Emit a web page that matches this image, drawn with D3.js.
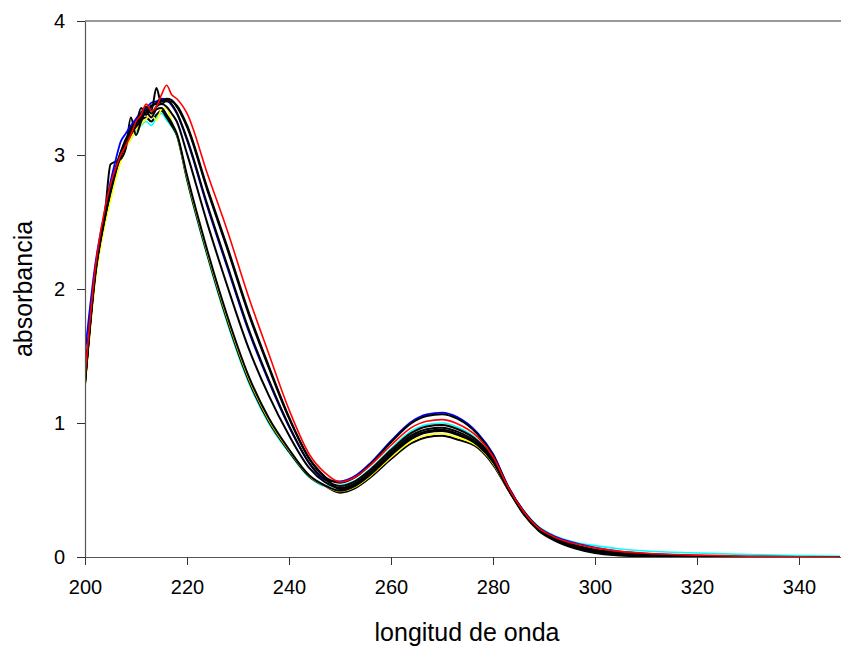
<!DOCTYPE html>
<html>
<head>
<meta charset="utf-8">
<script src="https://cdn.jsdelivr.net/npm/d3@7"></script>
<style>
  html, body { margin: 0; padding: 0; background: #fff; }
  svg { display: block; font-family: "Liberation Sans", Arial, sans-serif; }
</style>
</head>
<body>
<svg id="chart" width="841" height="648"></svg>
<script>
// ---- Data ----
const wavelength = [200,202,204,205,206,207,208,209,210,211,212,213,214,215,216,217,218,
  220,224,228,232,236,240,244,247,
  250,253,256,260,264,267,270,273,277,280,
  283,286,289,292,296,300,
  305,310,320,330,340,348];

const xTicks = [200,220,240,260,280,300,320,340];
const yTicks = [0,1,2,3,4];

const cyanSeries = [1.28,2.08,2.52,2.70,2.86,2.97,3.06,3.12,3.18,3.22,3.25,3.22,3.28,3.31,3.26,3.21,3.14,
  2.81,2.24,1.735,1.31,1.00,0.78,0.595,0.53,
  0.535,0.572,0.661,0.809,0.940,0.988,1.0,0.970,0.875,0.74,
  0.52,0.345,0.225,0.16,0.11,0.085,
  0.06,0.045,0.03,0.018,0.01,0.006];

const blackA = [1.30,2.10,2.55,2.74,2.88,2.98,3.08,3.15,3.20,3.26,3.28,3.25,3.30,3.33,3.28,3.22,3.15,
  2.82,2.255,1.752,1.326,1.013,0.788,0.599,0.532,
  0.48,0.514,0.595,0.731,0.850,0.894,0.905,0.877,0.815,0.69,
  0.50,0.32,0.195,0.125,0.065,0.03,
  0.012,0.004,0,0,0,0];

const yellowSeries = [1.25,2.05,2.50,2.66,2.82,2.95,3.05,3.12,3.19,3.23,3.27,3.30,3.26,3.34,3.35,3.25,3.155,
  2.835,2.27,1.77,1.342,1.026,0.796,0.604,0.533,
  0.49,0.524,0.606,0.744,0.864,0.909,0.92,0.892,0.825,0.70,
  0.505,0.325,0.20,0.135,0.08,0.05,
  0.028,0.015,0.006,0.002,0,0];

const blackE = [1.32,2.12,2.60,2.93,2.95,2.97,3.05,3.28,3.15,3.25,3.32,3.28,3.34,3.35,3.30,3.24,3.16,
  2.848,2.286,1.787,1.358,1.039,0.804,0.608,0.535,
  0.495,0.531,0.615,0.758,0.882,0.929,0.94,0.911,0.835,0.71,
  0.505,0.325,0.20,0.13,0.07,0.035,
  0.015,0.005,0,0,0,0];

const blackB = [1.30,2.13,2.57,2.76,2.90,3.02,3.12,3.18,3.26,3.30,3.34,3.31,3.36,3.38,3.36,3.31,3.25,
  3.01,2.488,2.011,1.566,1.208,0.908,0.663,0.56,
  0.515,0.551,0.637,0.781,0.907,0.954,0.965,0.936,0.85,0.725,
  0.51,0.33,0.205,0.14,0.08,0.045,
  0.022,0.008,0.001,0,0,0];

const blueSeries = [1.52,2.18,2.60,2.80,2.96,3.10,3.16,3.22,3.27,3.32,3.35,3.39,3.40,3.42,3.41,3.37,3.31,
  3.11,2.612,2.149,1.694,1.312,0.972,0.697,0.578,
  0.565,0.606,0.703,0.867,1.010,1.064,1.077,1.044,0.925,0.77,
  0.525,0.345,0.22,0.155,0.105,0.07,
  0.04,0.025,0.01,0.003,0,0];

const blackC = [1.30,2.12,2.56,2.74,2.90,3.02,3.10,3.20,3.24,3.30,3.36,3.33,3.50,3.38,3.41,3.38,3.315,
  3.122,2.628,2.166,1.71,1.325,0.98,0.701,0.58,
  0.53,0.566,0.653,0.798,0.926,0.974,0.985,0.955,0.865,0.735,
  0.515,0.335,0.21,0.14,0.085,0.05,
  0.025,0.01,0.002,0,0,0];

const blackD = [1.31,2.11,2.55,2.73,2.88,3.00,3.09,3.16,3.22,3.35,3.30,3.37,3.38,3.40,3.42,3.41,3.36,
  3.21,2.736,2.287,1.822,1.416,1.036,0.731,0.598,
  0.555,0.596,0.693,0.856,0.999,1.052,1.065,1.032,0.915,0.76,
  0.52,0.34,0.215,0.148,0.09,0.055,
  0.03,0.015,0.004,0,0,0];

const blackF = [1.29,2.10,2.55,2.72,2.87,3.00,3.08,3.18,3.23,3.28,3.32,3.36,3.39,3.41,3.40,3.40,3.37,
  3.222,2.752,2.304,1.838,1.429,1.044,0.735,0.60,
  0.505,0.541,0.625,0.768,0.892,0.939,0.95,0.921,0.84,0.715,
  0.51,0.325,0.20,0.135,0.075,0.04,
  0.018,0.006,0,0,0,0];

const redSeries = [1.34,2.15,2.62,2.78,2.90,3.00,3.07,3.15,3.25,3.30,3.38,3.33,3.36,3.45,3.52,3.45,3.42,
  3.31,2.86,2.425,1.95,1.52,1.10,0.765,0.63,
  0.56,0.597,0.686,0.834,0.965,1.013,1.025,0.995,0.895,0.75,
  0.52,0.34,0.215,0.15,0.10,0.068,
  0.042,0.028,0.014,0.006,0.001,0];

// drawing order (later = on top)
const seriesList = [
  { values: cyanSeries,   color: "#00ffff", width: 1.6 },
  { values: blackA,       color: "#000000", width: 2.0 },
  { values: yellowSeries, color: "#ffff00", width: 1.6 },
  { values: blackE,       color: "#000000", width: 2.0 },
  { values: blackB,       color: "#000000", width: 2.0 },
  { values: blueSeries,   color: "#0000ff", width: 1.8 },
  { values: blackC,       color: "#000000", width: 2.0 },
  { values: blackD,       color: "#000000", width: 2.0 },
  { values: blackF,       color: "#000000", width: 2.0 },
  { values: redSeries,    color: "#ff0000", width: 1.6 }
];

// ---- Layout ----
const svg = d3.select("#chart");
const plotLeft = 85, plotTop = 21, plotRight = 850, plotBottom = 557;

const x = d3.scaleLinear().domain([200, 350]).range([plotLeft, plotRight]);
const y = d3.scaleLinear().domain([0, 4]).range([plotBottom, plotTop]);

svg.append("defs").append("clipPath").attr("id", "plotclip")
  .append("rect").attr("x", plotLeft).attr("y", plotTop - 2)
  .attr("width", plotRight - plotLeft).attr("height", plotBottom - plotTop + 2);

// top frame line
svg.append("line")
  .attr("x1", x(200)).attr("x2", x(350))
  .attr("y1", y(4)).attr("y2", y(4))
  .attr("stroke", "#333").attr("stroke-width", 1);

// lines
const line = d3.line()
  .x((d, i) => x(wavelength[i]))
  .y(d => y(d))
  .curve(d3.curveMonotoneX);

const g = svg.append("g").attr("clip-path", "url(#plotclip)");
seriesList.forEach(s => {
  g.append("path")
    .datum(s.values)
    .attr("d", line)
    .attr("fill", "none")
    .attr("stroke", s.color)
    .attr("stroke-width", s.width)
    .attr("stroke-linejoin", "round");
});

// axes
const xAxis = d3.axisBottom(x).tickValues(xTicks).tickSize(8).tickSizeOuter(0).tickPadding(15)
  .tickFormat(d3.format("d"));
const gx = svg.append("g").attr("transform", `translate(0,${plotBottom})`).call(xAxis);

const yAxis = d3.axisLeft(y).tickValues(yTicks).tickSize(8).tickSizeOuter(0).tickPadding(12)
  .tickFormat(d3.format("d"));
const gy = svg.append("g").attr("transform", `translate(${plotLeft},0)`).call(yAxis);

[gx, gy].forEach(a => {
  a.select(".domain").attr("stroke", "#555").attr("stroke-width", 1.2);
  a.selectAll(".tick line").attr("stroke", "#333").attr("stroke-width", 1);
  a.selectAll(".tick text").attr("fill", "#000")
    .style("font-family", '"Liberation Sans", Arial, sans-serif')
    .style("font-size", "20px");
});

// axis titles
svg.append("text")
  .attr("x", 467).attr("y", 641)
  .attr("text-anchor", "middle")
  .style("font-size", "25px")
  .attr("fill", "#000")
  .text("longitud de onda");

svg.append("text")
  .attr("transform", `translate(32,${(plotTop + plotBottom) / 2}) rotate(-90)`)
  .attr("text-anchor", "middle")
  .style("font-size", "25px")
  .attr("fill", "#000")
  .text("absorbancia");
</script>
</body>
</html>
